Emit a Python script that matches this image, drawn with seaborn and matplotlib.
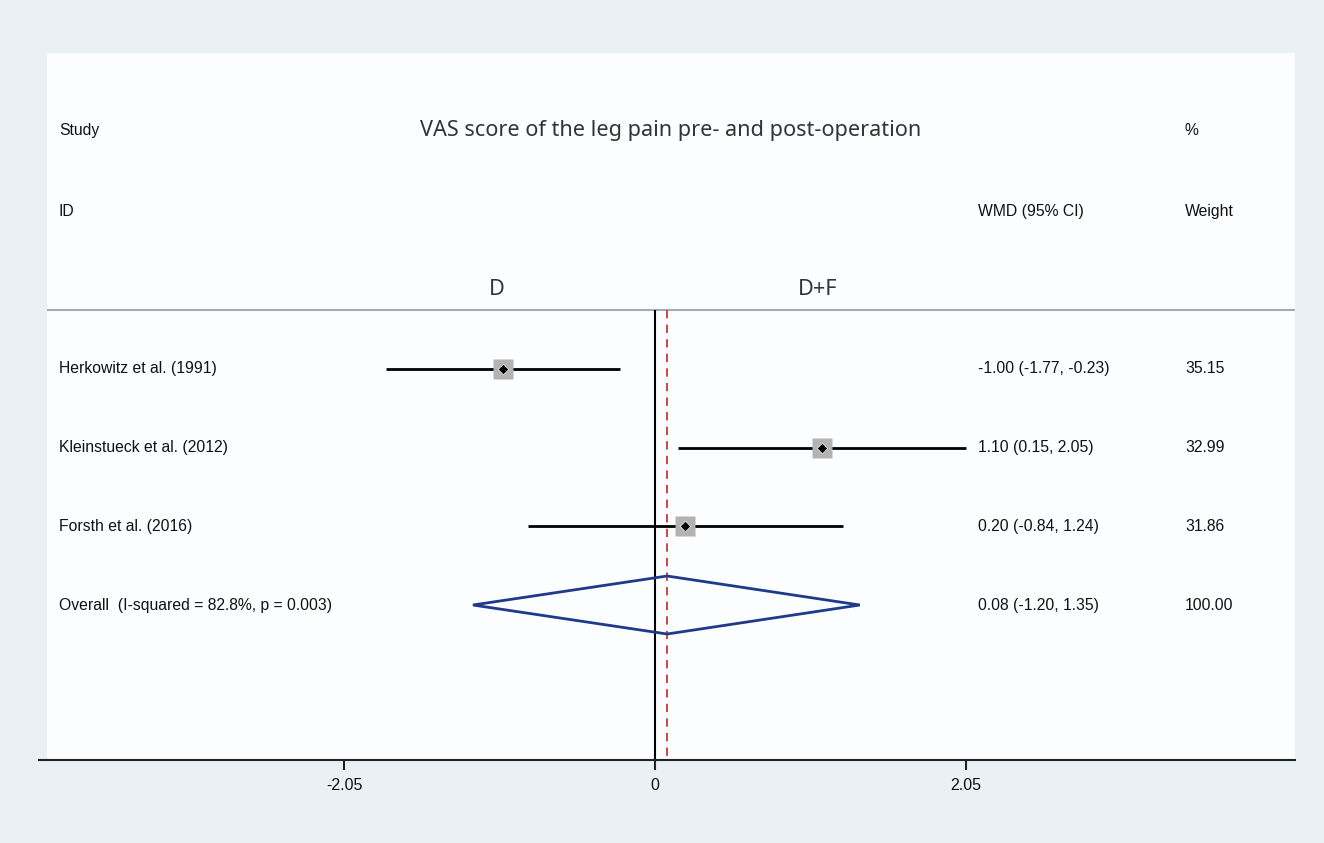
import matplotlib
matplotlib.use("Agg")
import matplotlib.pyplot as plt
import seaborn as sns
import pandas as pd

studies = ["Herkowitz et al. (1991)", "Kleinstueck et al. (2012)", "Forsth et al. (2016)"]
wmd = [-1.00, 1.10, 0.20]
lower = [-1.77, 0.15, -0.84]
upper = [-0.23, 2.05, 1.24]
weights = [35.15, 32.99, 31.86]
overall_label = "Overall  (I-squared = 82.8%, p = 0.003)"
overall = [0.08, -1.20, 1.35]
overall_weight = 100.00
xticks = [-2.05, 0, 2.05]
title = "VAS score of the leg pain pre- and post-operation"

sns.set_theme(style="white")
plt.rcParams["font.family"] = ["Liberation Sans", "DejaVu Sans"]

W, H = 1324, 843
fig = plt.figure(figsize=(W / 100, H / 100), dpi=100)
fig.patch.set_facecolor("#e9f1f4")

left_px, right_px, top_px, bottom_px = 47, 1295, 53, 760
ax = fig.add_axes([left_px / W, 1 - bottom_px / H, (right_px - left_px) / W, (bottom_px - top_px) / H])
ax.set_facecolor("#fcfdfe")

px_per_unit = 151.7
x0_px = 655
xl = ((left_px - x0_px) / px_per_unit, (right_px - x0_px) / px_per_unit)
ax.set_xlim(*xl)
row_h = 78.67
def row_of(py):
    return 1 + (py - 369) / row_h
ax.set_ylim(row_of(bottom_px), row_of(top_px))

rows = [1, 2, 3]
df = pd.DataFrame({"study": studies, "wmd": wmd, "lo": lower, "hi": upper, "w": weights, "row": rows})

# reference lines
ax.vlines(0, row_of(310), row_of(bottom_px), color="black", lw=1.5, zorder=2)
ax.vlines(overall[0], row_of(310), row_of(bottom_px), color="#c0504d", lw=1.5, ls=(0, (4, 3)), zorder=2)
ax.axhline(row_of(310), color="#a3acb4", lw=1.5, zorder=1)

# CI lines
ax.hlines(df["row"], df["lo"], df["hi"], color="black", lw=2, zorder=3)
sizes = [(w / 35.15) ** 0.5 * 15 for w in weights]
for r, x, s in zip(rows, wmd, sizes):
    ax.plot(x, r, marker="s", ms=s, color="#b3b3b3", mec="none", zorder=4)
sns.scatterplot(data=df, x="wmd", y="row", marker="D", s=28, color="black", ax=ax, zorder=5, legend=False)

# overall diamond
orow = 4
half_h = (634 - 605) / row_h
ax.fill([overall[1], overall[0], overall[2], overall[0], overall[1]],
        [orow, orow - half_h, orow, orow + half_h, orow],
        facecolor="none", edgecolor="#1f3a8a", lw=2, zorder=6)

tx_study = (59 - x0_px) / px_per_unit
tx_wmd = (978 - x0_px) / px_per_unit
tx_wt = (1185 - x0_px) / px_per_unit
fs = 11.3
tc = "#111"
for r, s, m, lo, hi, w in zip(rows, studies, wmd, lower, upper, weights):
    ax.text(tx_study, r, s, va="center", ha="left", fontsize=fs, color=tc)
    ax.text(tx_wmd, r, f"{m:.2f} ({lo:.2f}, {hi:.2f})", va="center", ha="left", fontsize=fs, color=tc)
    ax.text(tx_wt, r, f"{w:.2f}", va="center", ha="left", fontsize=fs, color=tc)
ax.text(tx_study, orow, overall_label, va="center", ha="left", fontsize=fs, color=tc)
ax.text(tx_wmd, orow, f"{overall[0]:.2f} ({overall[1]:.2f}, {overall[2]:.2f})", va="center", ha="left", fontsize=fs, color=tc)
ax.text(tx_wt, orow, f"{overall_weight:.2f}", va="center", ha="left", fontsize=fs, color=tc)

ax.text(tx_study, row_of(131), "Study", va="center", ha="left", fontsize=fs, color=tc)
ax.text(tx_study, row_of(212), "ID", va="center", ha="left", fontsize=fs, color=tc)
ax.text(tx_wt, row_of(131), "%", va="center", ha="left", fontsize=fs, color=tc)
ax.text(tx_wmd, row_of(212), "WMD (95% CI)", va="center", ha="left", fontsize=fs, color=tc)
ax.text(tx_wt, row_of(212), "Weight", va="center", ha="left", fontsize=fs, color=tc)

tfam = ["Noto Sans", "DejaVu Sans"]
tfs = 15.6
ax.text((671 - x0_px) / px_per_unit, row_of(131), title, va="center", ha="center", fontsize=tfs, color="#333", family=tfam)
ax.text((497 - x0_px) / px_per_unit, row_of(290), "D", va="center", ha="center", fontsize=tfs, color="#333", family=tfam)
ax.text((818 - x0_px) / px_per_unit, row_of(290), "D+F", va="center", ha="center", fontsize=tfs, color="#333", family=tfam)

for sp in ["top", "right", "left"]:
    ax.spines[sp].set_visible(False)
ax.spines["bottom"].set_color("#222")
ax.spines["bottom"].set_linewidth(1.5)
ax.plot([xl[0] - 9 / px_per_unit, xl[0]], [row_of(bottom_px)] * 2, color="#222", lw=1.5, clip_on=False, solid_capstyle="butt")
ax.set_yticks([])
ax.set_xticks(xticks)
ax.set_xticklabels(["-2.05", "0", "2.05"])
ax.tick_params(axis="x", bottom=True, length=7, width=1.5, color="#222", labelsize=11.5, pad=6, labelcolor=tc)
ax.set_xlabel("")
ax.set_ylabel("")

fig.savefig("out.png", dpi=100, facecolor=fig.get_facecolor())
